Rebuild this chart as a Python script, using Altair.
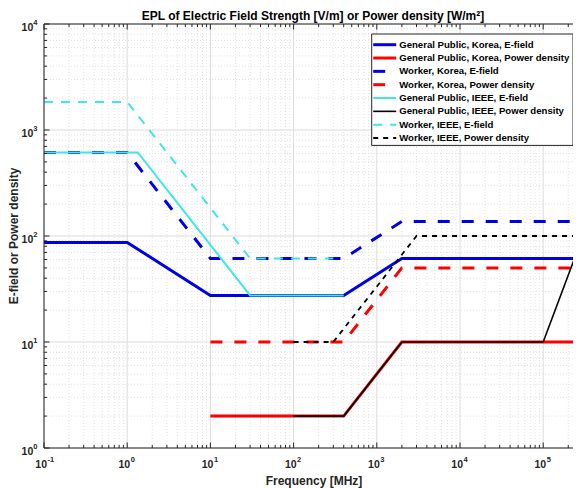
import altair as alt
import pandas as pd

# ---------------- data ----------------
series_names = [
    "General Public, Korea, E-field",
    "General Public, Korea, Power density",
    "Worker, Korea, E-field",
    "Worker, Korea, Power density",
    "General Public, IEEE, E-field",
    "General Public, IEEE, Power density",
    "Worker, IEEE, E-field",
    "Worker, IEEE, Power density",
]

freq_gp_kr_e = [0.1, 1, 10, 400, 2000, 300000]
val_gp_kr_e = [87, 87, 27.5, 27.5, 61.4, 61.4]

freq_gp_kr_pd = [10, 400, 2000, 300000]
val_gp_kr_pd = [2, 2, 10, 10]

freq_wk_kr_e = [0.1, 1, 10, 400, 2000, 300000]
val_wk_kr_e = [614, 614, 61.4, 61.4, 137, 137]

freq_wk_kr_pd = [10, 400, 2000, 300000]
val_wk_kr_pd = [10, 10, 50, 50]

freq_gp_ieee_e = [0.1, 1.34, 30, 400]
val_gp_ieee_e = [614, 614, 27.5, 27.5]

freq_gp_ieee_pd = [100, 400, 2000, 100000, 300000]
val_gp_ieee_pd = [2, 2, 10, 10, 100]

freq_wk_ieee_e = [0.1, 1, 30, 300]
val_wk_ieee_e = [1842, 1842, 61.4, 61.4]

freq_wk_ieee_pd = [100, 300, 3000, 300000]
val_wk_ieee_pd = [10, 10, 100, 100]

series_freqs = [freq_gp_kr_e, freq_gp_kr_pd, freq_wk_kr_e, freq_wk_kr_pd,
                freq_gp_ieee_e, freq_gp_ieee_pd, freq_wk_ieee_e, freq_wk_ieee_pd]
series_vals = [val_gp_kr_e, val_gp_kr_pd, val_wk_kr_e, val_wk_kr_pd,
               val_gp_ieee_e, val_gp_ieee_pd, val_wk_ieee_e, val_wk_ieee_pd]

x_major = [0.1, 1, 10, 100, 1000, 10000, 100000]
x_exp = ["-1", "0", "1", "2", "3", "4", "5"]
y_major = [1, 10, 100, 1000, 10000]
y_exp = ["0", "1", "2", "3", "4"]
x_decades = [0.1, 1, 10, 100, 1000, 10000, 100000]
y_decades = [1, 10, 100, 1000]

title_text = "EPL of Electric Field Strength [V/m] or Power density [W/m²]"
x_title = "Frequency [MHz]"
y_title = "E-field or Power density"

# ---------------- styles / layout ----------------
BLUE = "#0000e6"
RED = "#ff0000"
CYAN = "#3ee6e6"
BLACK = "#000000"
series_colors = [BLUE, RED, BLUE, RED, CYAN, BLACK, CYAN, BLACK]
series_dash = [None, None, [12, 12], [12, 12], None, None, [9, 8], [5, 5]]
series_width = [3, 3, 3, 3, 2, 1.6, 2, 1.8]

W, H = 529, 424
PX_PER_DECADE = 83.2
X_MAX = 10 ** (W / PX_PER_DECADE - 1)   # plot is cut at the right edge, as in the reference
FONT = "Liberation Sans"
AX = "#262626"

x_minor = [m * d for d in x_decades for m in range(2, 10) if m * d <= X_MAX]
y_minor = [m * d for d in y_decades for m in range(2, 10)]

xs = alt.Scale(type="log", domain=[0.1, X_MAX], nice=False)
ys = alt.Scale(type="log", domain=[1, 1e4], nice=False)


def xenc(f):
    return alt.X(f"{f}:Q", scale=xs, axis=None)


def yenc(f):
    return alt.Y(f"{f}:Q", scale=ys, axis=None)


layers = []
one = pd.DataFrame({"t": [x_title], "u": [y_title], "h": [title_text]})

# grid
gx_min = pd.DataFrame({"g": x_minor})
gx_maj = pd.DataFrame({"g": x_major})
gy_min = pd.DataFrame({"g": y_minor})
gy_maj = pd.DataFrame({"g": y_major})

layers.append(alt.Chart(gx_min).mark_rule(color="#e2e2e2", strokeDash=[1, 2], strokeWidth=1)
              .encode(x=xenc("g"), y=alt.value(0), y2=alt.value(H)))
layers.append(alt.Chart(gy_min).mark_rule(color="#e2e2e2", strokeDash=[1, 2], strokeWidth=1)
              .encode(y=yenc("g"), x=alt.value(0), x2=alt.value(W)))
layers.append(alt.Chart(gx_maj).mark_rule(color="#dcdcdc", strokeWidth=1)
              .encode(x=xenc("g"), y=alt.value(0), y2=alt.value(H)))
layers.append(alt.Chart(gy_maj).mark_rule(color="#dcdcdc", strokeWidth=1)
              .encode(y=yenc("g"), x=alt.value(0), x2=alt.value(W)))

# data lines (in plotting order)
for i, name in enumerate(series_names):
    df = pd.DataFrame({"f": series_freqs[i], "v": series_vals[i]})
    kw = dict(color=series_colors[i], strokeWidth=series_width[i], clip=True)
    if series_dash[i] is not None:
        kw["strokeDash"] = series_dash[i]
    layers.append(alt.Chart(df).mark_line(**kw).encode(x=xenc("f"), y=yenc("v")))

# axes box (left, top, bottom; right side is cut off)
layers.append(alt.Chart(one).mark_rule(color=AX, strokeWidth=1)
              .encode(x=alt.value(0), x2=alt.value(W), y=alt.value(0)))
layers.append(alt.Chart(one).mark_rule(color=AX, strokeWidth=1)
              .encode(x=alt.value(0), x2=alt.value(W), y=alt.value(H)))
layers.append(alt.Chart(one).mark_rule(color=AX, strokeWidth=1)
              .encode(x=alt.value(0), y=alt.value(0), y2=alt.value(H)))

# inward ticks
for df, ln in ((gx_maj, 5.5), (gx_min, 3)):
    layers.append(alt.Chart(df).mark_rule(color=AX, strokeWidth=1)
                  .encode(x=xenc("g"), y=alt.value(H), y2=alt.value(H - ln)))
    layers.append(alt.Chart(df).mark_rule(color=AX, strokeWidth=1)
                  .encode(x=xenc("g"), y=alt.value(0), y2=alt.value(ln)))
for df, ln in ((gy_maj, 5.5), (gy_min, 3)):
    layers.append(alt.Chart(df).mark_rule(color=AX, strokeWidth=1)
                  .encode(y=yenc("g"), x=alt.value(0), x2=alt.value(ln)))

# tick labels
xl = pd.DataFrame({"g": x_major, "e": x_exp})
yl = pd.DataFrame({"g": y_major, "e": y_exp})
layers.append(alt.Chart(xl).mark_text(text="10", align="right", baseline="alphabetic", dx=3,
                                      font=FONT, fontSize=10.5, fontWeight="bold", color=AX)
              .encode(x=xenc("g"), y=alt.value(H + 20)))
layers.append(alt.Chart(xl).mark_text(align="left", baseline="alphabetic", dx=3.5,
                                      font=FONT, fontSize=7.5, fontWeight="bold", color=AX)
              .encode(x=xenc("g"), y=alt.value(H + 14), text="e:N"))
layers.append(alt.Chart(yl).mark_text(text="10", align="right", baseline="alphabetic", dy=6.5,
                                      font=FONT, fontSize=10.5, fontWeight="bold", color=AX)
              .encode(y=yenc("g"), x=alt.value(-10.7)))
layers.append(alt.Chart(yl).mark_text(align="left", baseline="alphabetic", dy=0.5,
                                      font=FONT, fontSize=7.5, fontWeight="bold", color=AX)
              .encode(y=yenc("g"), x=alt.value(-10.7), text="e:N"))

# titles
layers.append(alt.Chart(one).mark_text(align="center", baseline="alphabetic", font=FONT,
                                       fontSize=12, fontWeight="bold", color="black")
              .encode(x=alt.value(269), y=alt.value(-3.6), text="h:N"))
layers.append(alt.Chart(one).mark_text(align="center", baseline="middle", font=FONT, fontSize=12,
                                       fontWeight="bold", color=AX)
              .encode(x=alt.value(270), y=alt.value(H + 33), text="t:N"))
layers.append(alt.Chart(one).mark_text(align="center", baseline="middle", angle=270, font=FONT,
                                       fontSize=12, fontWeight="bold", color=AX)
              .encode(x=alt.value(-30), y=alt.value(H / 2), text="u:N"))

# legend
LX0, LX1, LY0, LY1 = 327.7, 529, 10, 121.4
ROW0, ROWH = 20.7, 13.33
layers.append(alt.Chart(one).mark_rect(fill="white", stroke=AX, strokeWidth=1)
              .encode(x=alt.value(LX0), x2=alt.value(LX1), y=alt.value(LY0), y2=alt.value(LY1)))
for i, name in enumerate(series_names):
    kw = dict(color=series_colors[i], strokeWidth=series_width[i])
    if series_dash[i] is not None:
        kw["strokeDash"] = series_dash[i]
    layers.append(alt.Chart(one).mark_rule(**kw)
                  .encode(x=alt.value(LX0 + 1.5), x2=alt.value(LX0 + 24.5),
                          y=alt.value(ROW0 + ROWH * i)))
leg = pd.DataFrame({"name": series_names, "i": list(range(len(series_names)))})
layers.append(alt.Chart(leg).mark_text(align="left", baseline="middle", font=FONT, fontSize=9.6,
                                       fontWeight="bold", color="black")
              .transform_calculate(ly=f"{ROW0} + {ROWH} * datum.i")
              .encode(x=alt.value(LX0 + 27.5), y=alt.Y("ly:Q", scale=None, axis=None),
                      text="name:N"))

chart = (
    alt.layer(*layers)
    .properties(
        width=W,
        height=H,
        padding={"left": 36, "top": 16, "right": 0, "bottom": 40},
        autosize=alt.AutoSizeParams(type="none"),
        background="white",
    )
    .configure_view(strokeWidth=0)
)

chart.save("out.html", embed_options={"renderer": "svg", "actions": False})
